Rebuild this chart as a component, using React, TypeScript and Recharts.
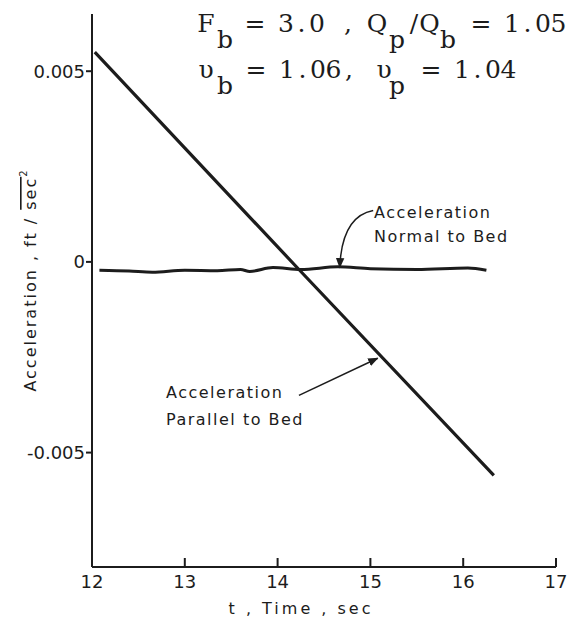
import React from 'react';
import { LineChart, Line, XAxis, YAxis, Customized } from 'recharts';

// time axis (sec)
const timeTicks = [12, 13, 14, 15, 16, 17];
const accelTicks = [-0.005, 0, 0.005];
const accelTickLabels = ['-0.005', '0', '0.005'];

// acceleration parallel to bed (ft/sec^2)
const parallelTime = [12.03, 14.23, 16.33];
const parallelAccel = [0.0055, -0.0002, -0.0056];

// acceleration normal to bed (ft/sec^2)
const normalTime = [12.08, 12.4, 12.65, 13.0, 13.35, 13.6, 13.7, 13.95, 14.25, 14.65, 15.0, 15.5, 16.05, 16.25];
const normalAccel = [
  -0.00022, -0.00024, -0.00027, -0.00022, -0.00023, -0.0002, -0.00025,
  -0.00015, -0.0002, -0.00013, -0.00018, -0.0002, -0.00016, -0.00022,
];

const parallelData = parallelTime.map((t, i) => ({ t, a: parallelAccel[i] }));
const normalData = normalTime.map((t, i) => ({ t, a: normalAccel[i] }));

const W = 570;
const H = 620;
const M = { top: 14, right: 14, bottom: 0, left: 0 };
const Y_AXIS_W = 92;
const X_AXIS_H = 53;
const X_DOMAIN: [number, number] = [12, 17];
const Y_DOMAIN: [number, number] = [-0.008, 0.0065];

const INK = '#1c1c1c';
const SANS = '"DejaVu Sans", sans-serif';
const TYPE = '"DejaVu Serif", serif';
const PITCH = 15.5;

// plot box, used to place leader arrows at data positions
const plotL = M.left + Y_AXIS_W;
const plotR = W - M.right;
const plotT = M.top;
const plotB = H - M.bottom - X_AXIS_H;
const px = (t: number) => plotL + ((t - X_DOMAIN[0]) / (X_DOMAIN[1] - X_DOMAIN[0])) * (plotR - plotL);
const py = (v: number) => plotT + ((Y_DOMAIN[1] - v) / (Y_DOMAIN[1] - Y_DOMAIN[0])) * (plotB - plotT);

// typewriter-style run: one glyph per fixed-width slot, first slot centred on cx
const Typed = ({ s, cx, y, k }: { s: string; cx: number; y: number; k: string }) => (
  <>
    {s.split('').map((ch, i) =>
      ch === ' ' ? null : (
        <text key={`${k}-${i}`} x={cx + i * PITCH} y={y} textAnchor="middle" fontFamily={TYPE} fontSize={25} fill={INK}>
          {ch}
        </text>
      ),
    )}
  </>
);

const TimeTick = (props: any) => {
  const { x, y, payload } = props;
  return (
    <g>
      <line x1={x} x2={x} y1={y - 9} y2={y} stroke={INK} strokeWidth={2} />
      <text x={x} y={y + 21} textAnchor="middle" fontFamily={SANS} fontSize={18} fill={INK}>
        {payload.value}
      </text>
    </g>
  );
};

const Notes = () => {
  const nFrom = { x: px(15.03), y: py(0.00135) };
  const nTo = { x: px(14.67), y: py(-0.0002) };
  const pFrom = { x: px(14.23), y: py(-0.0035) };
  const pTo = { x: px(15.1), y: py(-0.0025) };
  return (
    <g fill={INK}>
      <defs>
        <marker id="tip" viewBox="0 0 10 10" refX="9" refY="5" markerWidth="7" markerHeight="7" orient="auto">
          <path d="M0,1 L10,5 L0,9 z" fill={INK} />
        </marker>
      </defs>

      {/* run parameters */}
      <Typed k="f" s="F" cx={206} y={32} />
      <Typed k="fb" s="b" cx={225} y={48} />
      <Typed k="f1" s="= 3.0 ," cx={255} y={32} />
      <Typed k="q" s="Q" cx={377} y={32} />
      <Typed k="qp" s="p" cx={397} y={48} />
      <Typed k="q2" s="/Q" cx={414} y={32} />
      <Typed k="qb" s="b" cx={448} y={48} />
      <Typed k="q3" s="= 1.05" cx={481} y={32} />

      <Typed k="u" s="υ" cx={206} y={78} />
      <Typed k="ub" s="b" cx={225} y={94} />
      <Typed k="u1" s="= 1.06," cx={256} y={78} />
      <Typed k="v" s="υ" cx={384} y={78} />
      <Typed k="vp" s="p" cx={397} y={94} />
      <Typed k="v1" s="= 1.04" cx={431} y={78} />

      {/* curve labels */}
      <text fontFamily={SANS} fontSize={16} letterSpacing={1.5}>
        <tspan x={374} y={218}>Acceleration</tspan>
        <tspan x={374} y={242}>Normal to Bed</tspan>
      </text>
      <path
        d={`M${nFrom.x},${nFrom.y} Q${nTo.x + 2},${nFrom.y + 6} ${nTo.x},${nTo.y - 2}`}
        fill="none"
        stroke={INK}
        strokeWidth={1.5}
        markerEnd="url(#tip)"
      />
      <text fontFamily={SANS} fontSize={16} letterSpacing={1.5}>
        <tspan x={166} y={398}>Acceleration</tspan>
        <tspan x={166} y={425}>Parallel to Bed</tspan>
      </text>
      <path
        d={`M${pFrom.x},${pFrom.y} L${pTo.x - 2},${pTo.y + 1}`}
        fill="none"
        stroke={INK}
        strokeWidth={1.5}
        markerEnd="url(#tip)"
      />

      {/* axis titles */}
      <text
        transform="rotate(-90 36 280)"
        x={36}
        y={280}
        textAnchor="middle"
        fontFamily={SANS}
        fontSize={16}
        letterSpacing={2}
      >
        Acceleration , ft / <tspan style={{ textDecoration: 'overline' }}>sec</tspan>
        <tspan dy={-9} fontSize={10}>2</tspan>
      </text>
      <text x={301} y={614} textAnchor="middle" fontFamily={SANS} fontSize={16} letterSpacing={3}>
        t , Time , sec
      </text>
    </g>
  );
};

export default function App() {
  return (
    <div style={{ position: 'absolute', left: 0, top: 0, width: W, height: H, background: '#fff' }}>
      <LineChart width={W} height={H} margin={M}>
        <XAxis
          type="number"
          dataKey="t"
          domain={X_DOMAIN}
          ticks={timeTicks}
          allowDataOverflow
          height={X_AXIS_H}
          axisLine={{ stroke: INK, strokeWidth: 2 }}
          tickLine={false}
          tickSize={0}
          tickMargin={0}
          tick={<TimeTick />}
        />
        <YAxis
          type="number"
          dataKey="a"
          domain={Y_DOMAIN}
          ticks={accelTicks}
          allowDataOverflow
          width={Y_AXIS_W}
          axisLine={{ stroke: INK, strokeWidth: 2 }}
          tickLine={{ stroke: INK, strokeWidth: 2 }}
          tickSize={6}
          tickMargin={1}
          tickFormatter={(v: number) => accelTickLabels[accelTicks.indexOf(v)] ?? String(v)}
          tick={{ fill: INK, fontFamily: SANS, fontSize: 18 }}
        />
        <Line
          data={parallelData}
          dataKey="a"
          type="linear"
          stroke={INK}
          strokeWidth={3.2}
          dot={false}
          isAnimationActive={false}
        />
        <Line
          data={normalData}
          dataKey="a"
          type="monotone"
          stroke={INK}
          strokeWidth={3}
          dot={false}
          isAnimationActive={false}
        />
        <Customized component={Notes} />
      </LineChart>
    </div>
  );
}
